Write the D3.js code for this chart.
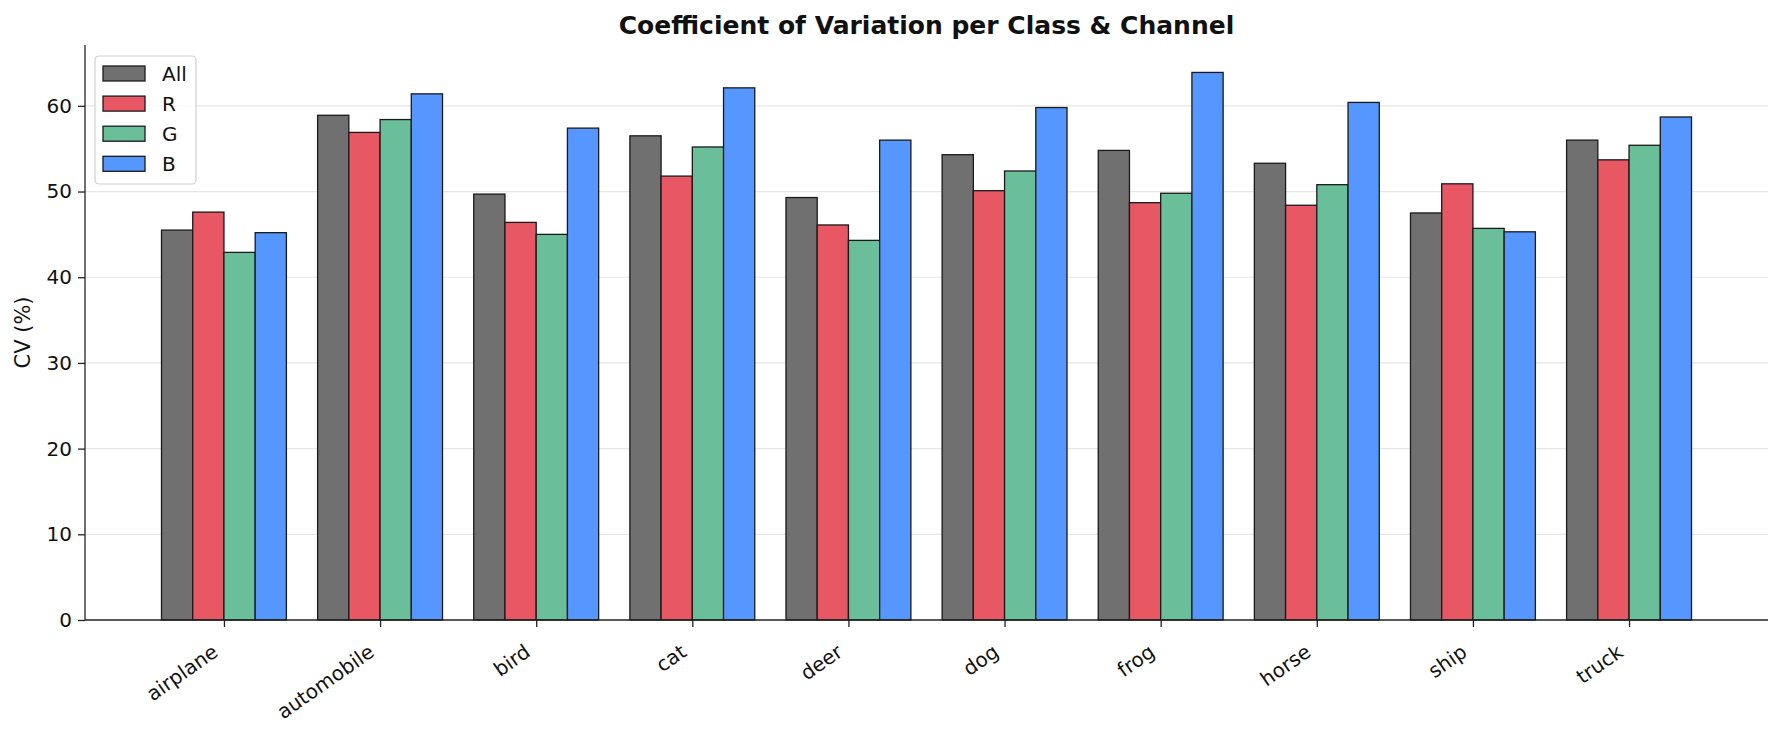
<!DOCTYPE html>
<html><head><meta charset="utf-8">
<script src="https://cdn.jsdelivr.net/npm/d3@7"></script>
<style>body{margin:0;background:#fff}svg{display:block}text{font-family:"DejaVu Sans",sans-serif;fill:#111}</style>
</head><body>
<svg id="c" width="1782" height="733"></svg>
<script>
const categories = ["airplane","automobile","bird","cat","deer","dog","frog","horse","ship","truck"];
const seriesNames = ["All","R","G","B"];
const valsAll = [45.5, 58.9, 49.7, 56.5, 49.3, 54.3, 54.8, 53.3, 47.5, 56.0];
const valsR   = [47.6, 56.9, 46.4, 51.8, 46.1, 50.1, 48.7, 48.4, 50.9, 53.7];
const valsG   = [42.9, 58.4, 45.0, 55.2, 44.3, 52.4, 49.8, 50.8, 45.7, 55.4];
const valsB   = [45.2, 61.4, 57.4, 62.1, 56.0, 59.8, 63.9, 60.4, 45.3, 58.7];
const yTicks  = [0,10,20,30,40,50,60];
const colors  = ["#707070","#e85764","#6abf9a","#5596ff"];
const title = "Coefficient of Variation per Class & Channel";
const yLabel = "CV (%)";

const series = [valsAll, valsR, valsG, valsB];
const svg = d3.select("#c");
const L = 85, R = 1768, T = 45, B = 620;
const x = d3.scaleLinear().domain([-0.89, categories.length - 1 + 0.89]).range([L, R]);
const y = d3.scaleLinear().domain([0, 67.1]).range([B, T]);
const barW = 0.2;

// grid
svg.append("g").selectAll("line").data(yTicks.filter(d => d > 0)).join("line")
  .attr("x1", L).attr("x2", R).attr("y1", d => y(d)).attr("y2", d => y(d))
  .attr("stroke", "#e6e6e6").attr("stroke-width", 1.2);

// bars
series.forEach((vals, si) => {
  const off = (si - 1.5) * barW;
  svg.append("g").selectAll("rect").data(vals).join("rect")
    .attr("x", (d, i) => x(i + off - barW / 2))
    .attr("width", x(barW) - x(0))
    .attr("y", d => y(d))
    .attr("height", d => y(0) - y(d))
    .attr("fill", colors[si])
    .attr("stroke", "#1a1a1a").attr("stroke-width", 1.3);
});

// y axis
const ya = svg.append("g").attr("transform", `translate(${L},0)`)
  .call(d3.axisLeft(y).tickValues(yTicks).tickSize(7).tickPadding(6));
ya.select(".domain").attr("stroke", "#222").attr("stroke-width", 1.3).attr("d", `M0,${T}V${B}`);
ya.selectAll(".tick line").attr("stroke", "#222").attr("stroke-width", 1.3);
ya.selectAll(".tick text").style("font-size", "20px").attr("fill", "#111");

// x axis
const xa = svg.append("g").attr("transform", `translate(0,${B})`)
  .call(d3.axisBottom(x).tickValues(d3.range(categories.length)).tickFormat(i => categories[i]).tickSize(7));
xa.select(".domain").attr("stroke", "#222").attr("stroke-width", 1.3).attr("d", `M${L},0H${R}`);
xa.selectAll(".tick line").attr("stroke", "#222").attr("stroke-width", 1.3);
xa.selectAll(".tick text").style("font-size", "20px").attr("fill", "#111")
  .attr("text-anchor", "end").attr("dy", null).attr("y", null)
  .attr("transform", "translate(-5,35) rotate(-35)");

// title
svg.append("text").attr("x", (L + R) / 2).attr("y", 34).attr("text-anchor", "middle")
  .style("font-size", "25px").style("font-weight", "bold").text(title);

// y label
svg.append("text").attr("transform", `translate(30,${(T + B) / 2}) rotate(-90)`)
  .attr("text-anchor", "middle").style("font-size", "21px").text(yLabel);

// legend
const lg = svg.append("g").attr("transform", "translate(95,56)");
lg.append("rect").attr("width", 101).attr("height", 128).attr("rx", 4)
  .attr("fill", "#fff").attr("fill-opacity", 0.8).attr("stroke", "#d0d0d0").attr("stroke-width", 1.2);
seriesNames.forEach((n, i) => {
  const g = lg.append("g").attr("transform", `translate(8,${10 + i * 30.1})`);
  g.append("rect").attr("width", 42).attr("height", 15).attr("fill", colors[i])
    .attr("stroke", "#1a1a1a").attr("stroke-width", 1.3);
  g.append("text").attr("x", 59).attr("y", 15).style("font-size", "20px").text(n);
});
</script>
</body></html>
